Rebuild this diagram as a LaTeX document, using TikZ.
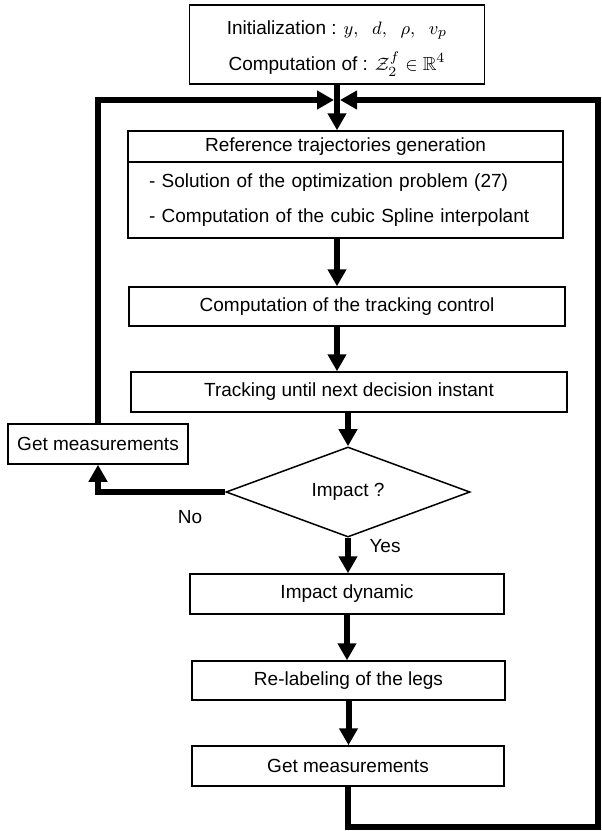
\documentclass[tikz,border=0pt]{standalone}
\usepackage{amsmath,amssymb}
\usepackage{fontspec}
\setmainfont{Liberation Sans}
\usetikzlibrary{arrows.meta}
\usetikzlibrary{shapes.geometric}
\tikzset{
  boxw/.style={draw, line width=0.75pt, inner sep=0pt, font=\fontsize{9.5}{11.5}\selectfont},
  flow/.style={line width=3pt, -{Triangle[length=8.5pt,width=9pt]}},
  lbl/.style={font=\fontsize{9.5}{11.5}\selectfont},
}

\begin{document}
\begin{tikzpicture}[x=0.5pt, y=-0.5pt]
        \useasboundingbox (0,0) rectangle (601,831);
        % start
        \node[boxw, minimum width=147.5pt, minimum height=39.5pt, align=center] (init) at (337,44.5)
            {\rule{0pt}{11pt}Initialization : $y,\ \ d,\ \ \rho,\ \ v_p$\\[5pt]
             Computation of : $\mathcal{Z}_2^f\in\mathbb{R}^4$};
        % reference trajectories
        \node[boxw, minimum width=217.5pt, minimum height=15.5pt] (refhead) at (345.5,146.5)
            {Reference trajectories generation};
        \node[boxw, minimum width=217.5pt, minimum height=38pt, text width=196.5pt, align=left] (refbody) at (345.5,200)
            {- Solution of the optimization problem (27)\\[6pt]
             - Computation of the cubic Spline interpolant};
        % main column
        \node[boxw, minimum width=218pt, minimum height=19.5pt] (ctrl) at (347,306.5) {Computation of the tracking control};
        \node[boxw, minimum width=218pt, minimum height=20pt] (track) at (349,392) {Tracking until next decision instant};
        \node[boxw, diamond, minimum width=122pt, minimum height=35pt] (decide) at (348,492) {Impact ?};
        \node[boxw, minimum width=90pt, minimum height=20pt] (leftget) at (98,444) {Get measurements};
        \node[boxw, minimum width=157pt, minimum height=20pt] (impact) at (347,594) {Impact dynamic};
        \node[boxw, minimum width=156.5pt, minimum height=19.5pt] (relabel) at (348.5,680.5) {Re-labeling of the legs};
        \node[boxw, minimum width=156pt, minimum height=20pt] (getm) at (348,766) {Get measurements};
        % labels
        \node[lbl] (no) at (190,517) {No};
        \node[lbl] (yes) at (385,546) {Yes};
        % arrows
        \draw[flow] (init.south) -- (init.south |- refhead.north);
        \draw[flow] (refbody.south -| init.south) -- (init.south |- ctrl.north);
        \draw[flow] (ctrl.south -| init.south) -- (init.south |- track.north);
        \draw[flow] (track.south -| decide.north) -- (decide.north);
        \draw[flow] (decide.south) -- (decide.south |- impact.north);
        \draw[flow] (impact.south) -- (impact.south |- relabel.north);
        \draw[flow] (relabel.south) -- (relabel.south |- getm.north);
        % loops
        \coordinate (joinl) at (334,100);
        \coordinate (joinr) at (340,100);
        \coordinate (rbot) at (598,827);
        \coordinate (rtop) at (598,100);
        \draw[flow] (decide.west) -| (leftget.south);
        \draw[flow] (leftget.north) |- (joinl);
        \draw[flow] (getm.south) |- (rbot) -- (rtop) -- (joinr);
\end{tikzpicture}
\end{document}
